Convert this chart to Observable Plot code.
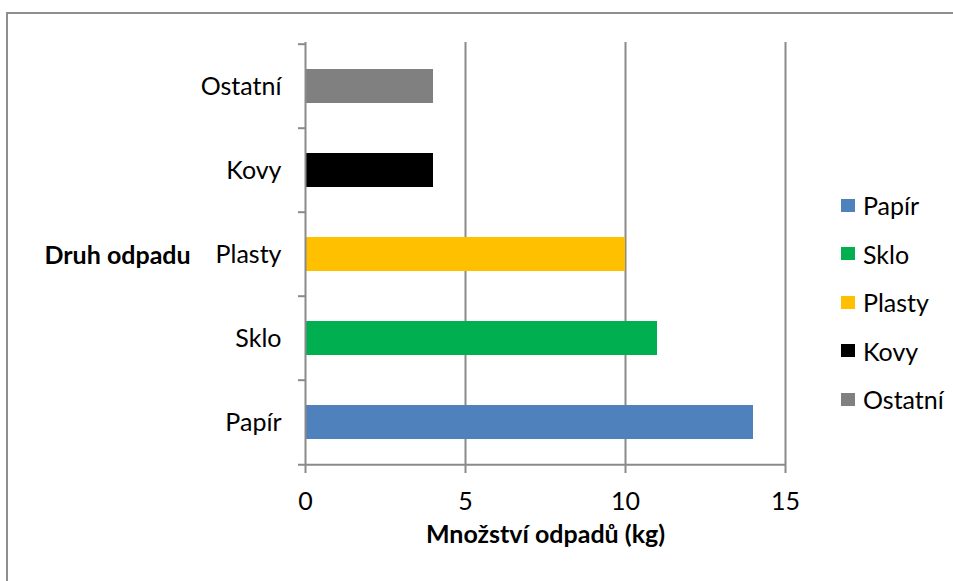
<!DOCTYPE html>
<html><head><meta charset="utf-8">
<script src="https://cdn.jsdelivr.net/npm/d3@7"></script>
<script src="https://cdn.jsdelivr.net/npm/@observablehq/plot@0.6"></script>
<style>
body{margin:0;background:#fff;font-family:Lato,sans-serif;}
#wrap{position:relative;width:953px;height:581px;overflow:hidden;}
#border{position:absolute;left:6px;top:12px;width:1000px;height:700px;border:2px solid #8e8e8e;box-sizing:border-box;}
#chart{position:absolute;left:0;top:0;}
#legend{position:absolute;left:841px;top:181px;}
.item{display:flex;align-items:center;height:48.5px;font-size:25px;color:#000;}
.sw{width:14px;height:13px;margin-right:8px;}
</style></head>
<body><div id="wrap"><div id="border"></div><div id="chart"></div><div id="legend"></div></div>
<script>
const categories = ["Papír","Sklo","Plasty","Kovy","Ostatní"];
const values = [14,11,10,4,4];
const colors = ["#4F81BD","#00B050","#FFC000","#000000","#808080"];
const xTicks = [0,5,10,15];
const xTitle = "Množství odpadů (kg)";
const yTitle = "Druh odpadu";

const data = categories.map((c,i)=>({cat:c, value:values[i]}));
const gray = "#8a8a8a";
const bw = (465-42)/categories.length;

const plot = Plot.plot({
  width:953, height:581,
  marginLeft:305, marginRight:168, marginTop:42, marginBottom:116,
  x:{domain:[0,15], ticks:xTicks},
  y:{domain:[...categories].reverse(), padding:0},
  color:{domain:categories, range:colors},
  style:{fontFamily:"Lato, sans-serif", fontSize:"25px", color:"#000", background:"transparent"},
  marks:[
    Plot.ruleX(xTicks.slice(1), {stroke:gray, strokeWidth:2}),
    Plot.barX(data, {y:"cat", x:"value", fill:"cat", insetTop:25, insetBottom:25}),
    Plot.ruleX([0], {stroke:gray, strokeWidth:2}),
    Plot.ruleY(categories, {y:d=>d, x1:-7/32, x2:0, dy:-bw/2, stroke:gray, strokeWidth:2}),
    Plot.ruleY([categories[0]], {y:d=>d, x1:-7/32, x2:15, dy:bw/2, stroke:gray, strokeWidth:2}),
    Plot.axisX(xTicks, {tickSize:8, tickPadding:19, stroke:gray, strokeWidth:2, label:null, fill:"#000"}),
    Plot.axisY({tickSize:0, tickPadding:24, label:null, fill:"#000"}),
    Plot.text([xTitle], {frameAnchor:"bottom", dy:77, fontWeight:"bold", fill:"#000"}),
    Plot.text([yTitle], {frameAnchor:"left", dx:-261, dy:1.5, textAnchor:"start", fontWeight:"bold", fill:"#000"})
  ]
});
document.getElementById("chart").appendChild(plot);

const legend = document.getElementById("legend");
categories.forEach((c,i)=>{
  const it = document.createElement("div"); it.className="item";
  const sw = document.createElement("div"); sw.className="sw"; sw.style.background=colors[i];
  const t = document.createElement("span"); t.textContent=c;
  it.appendChild(sw); it.appendChild(t); legend.appendChild(it);
});
</script></body></html>
